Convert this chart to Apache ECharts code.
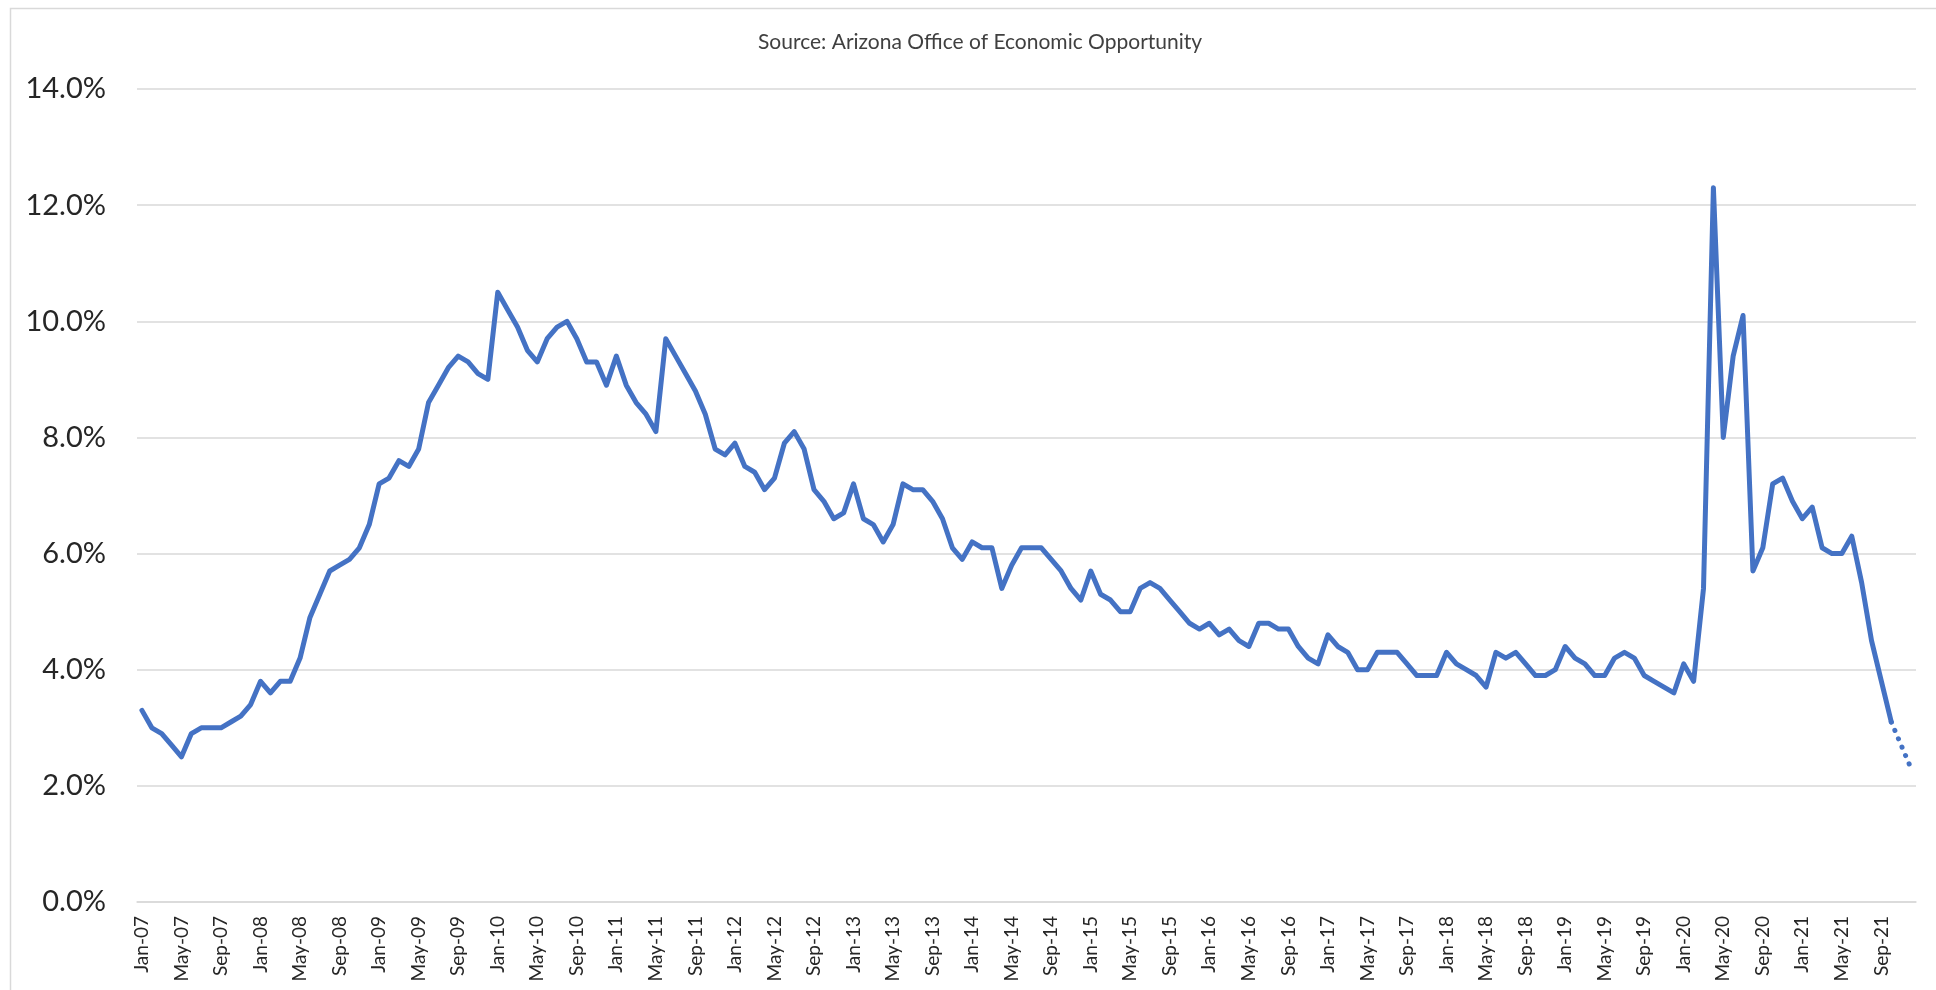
<!DOCTYPE html>
<html>
<head>
<meta charset="utf-8">
<script src="https://cdn.jsdelivr.net/npm/echarts@6/dist/echarts.min.js"></script>
<style>
  html, body { margin: 0; padding: 0; background: #fff; }
  #chart { width: 1936px; height: 990px; }
</style>
</head>
<body>
<div id="chart"></div>
<script>
// months / years for the category axis
var monthNames = ["Jan", "Feb", "Mar", "Apr", "May", "Jun", "Jul", "Aug", "Sep", "Oct", "Nov", "Dec"];
var years = ["07", "08", "09", "10", "11", "12", "13", "14", "15", "16", "17", "18", "19", "20", "21"];

// unemployment rate, %, one row per year
var rate2007 = [3.3, 3.0, 2.9, 2.7, 2.5, 2.9, 3.0, 3.0, 3.0, 3.1, 3.2, 3.4];
var rate2008 = [3.8, 3.6, 3.8, 3.8, 4.2, 4.9, 5.3, 5.7, 5.8, 5.9, 6.1, 6.5];
var rate2009 = [7.2, 7.3, 7.6, 7.5, 7.8, 8.6, 8.9, 9.2, 9.4, 9.3, 9.1, 9.0];
var rate2010 = [10.5, 10.2, 9.9, 9.5, 9.3, 9.7, 9.9, 10.0, 9.7, 9.3, 9.3, 8.9];
var rate2011 = [9.4, 8.9, 8.6, 8.4, 8.1, 9.7, 9.4, 9.1, 8.8, 8.4, 7.8, 7.7];
var rate2012 = [7.9, 7.5, 7.4, 7.1, 7.3, 7.9, 8.1, 7.8, 7.1, 6.9, 6.6, 6.7];
var rate2013 = [7.2, 6.6, 6.5, 6.2, 6.5, 7.2, 7.1, 7.1, 6.9, 6.6, 6.1, 5.9];
var rate2014 = [6.2, 6.1, 6.1, 5.4, 5.8, 6.1, 6.1, 6.1, 5.9, 5.7, 5.4, 5.2];
var rate2015 = [5.7, 5.3, 5.2, 5.0, 5.0, 5.4, 5.5, 5.4, 5.2, 5.0, 4.8, 4.7];
var rate2016 = [4.8, 4.6, 4.7, 4.5, 4.4, 4.8, 4.8, 4.7, 4.7, 4.4, 4.2, 4.1];
var rate2017 = [4.6, 4.4, 4.3, 4.0, 4.0, 4.3, 4.3, 4.3, 4.1, 3.9, 3.9, 3.9];
var rate2018 = [4.3, 4.1, 4.0, 3.9, 3.7, 4.3, 4.2, 4.3, 4.1, 3.9, 3.9, 4.0];
var rate2019 = [4.4, 4.2, 4.1, 3.9, 3.9, 4.2, 4.3, 4.2, 3.9, 3.8, 3.7, 3.6];
var rate2020 = [4.1, 3.8, 5.4, 12.3, 8.0, 9.4, 10.1, 5.7, 6.1, 7.2, 7.3, 6.9];
var rate2021 = [6.6, 6.8, 6.1, 6.0, 6.0, 6.3, 5.5, 4.5, 3.8, 3.1];   // Jan-21 .. Oct-21, solid
var projected = [3.1, 2.7, 2.3];                                       // Oct-21 .. Dec-21, dotted

var yTicks = [0, 2, 4, 6, 8, 10, 12, 14];

var categories = [];
years.forEach(function(y) {
  monthNames.forEach(function(m) {
    categories.push(m + "-" + y);
  });
});

var actual = [].concat(rate2007, rate2008, rate2009, rate2010, rate2011, rate2012,
  rate2013, rate2014, rate2015, rate2016, rate2017, rate2018, rate2019, rate2020, rate2021);

var dotted = [];
for (var i = 0; i < categories.length; i++) dotted.push(null);
for (var j = 0; j < projected.length; j++) dotted[actual.length - 1 + j] = projected[j];

var chart = echarts.init(document.getElementById("chart"));
var lineColor = "#4472C4";
var gridColor = "#d9d9d9";

var option = {
  animation: false,
  backgroundColor: "#fff",
  title: {
    text: "Source: Arizona Office of Economic Opportunity",
    left: 753,
    top: 27,
    textStyle: {
      fontFamily: "Lato",
      fontSize: 21,
      fontWeight: "normal",
      color: "#404040"
    }
  },
  graphic: [
    {
      type: "rect",
      left: 8,
      top: 6,
      shape: { width: 1940, height: 1000 },
      style: { fill: null, stroke: gridColor, lineWidth: 1.5 },
      silent: true
    }
  ],
  grid: {
    left: 137,
    right: 20,
    top: 89,
    bottom: 88
  },
  xAxis: {
    type: "category",
    data: categories,
    boundaryGap: true,
    axisLine: { lineStyle: { color: gridColor, width: 1.5 } },
    axisTick: {
      interval: 3,
      length: 6,
      lineStyle: { color: gridColor, width: 1.5 }
    },
    axisLabel: {
      interval: 3,
      rotate: 90,
      margin: 14,
      fontFamily: "Lato",
      fontSize: 19,
      color: "#262626"
    },
    splitLine: { show: false }
  },
  yAxis: {
    type: "value",
    min: yTicks[0],
    max: yTicks[yTicks.length - 1],
    interval: 2,
    axisLine: { show: false },
    axisTick: { show: false },
    axisLabel: {
      margin: 31,
      fontFamily: "Lato",
      fontSize: 29,
      color: "#262626",
      formatter: function(v) {
        return v.toFixed(1) + "%";
      }
    },
    splitLine: { lineStyle: { color: gridColor, width: 1.5 } }
  },
  series: [
    {
      name: "Unemployment rate",
      type: "line",
      data: actual,
      showSymbol: false,
      symbol: "none",
      lineStyle: { color: lineColor, width: 5, cap: "round", join: "round" }
    },
    {
      name: "Projected",
      type: "line",
      data: dotted,
      showSymbol: false,
      symbol: "none",
      connectNulls: false,
      lineStyle: { color: lineColor, width: 5, type: [0.1, 9], cap: "round" }
    }
  ]
};

chart.setOption(option);
</script>
</body>
</html>
